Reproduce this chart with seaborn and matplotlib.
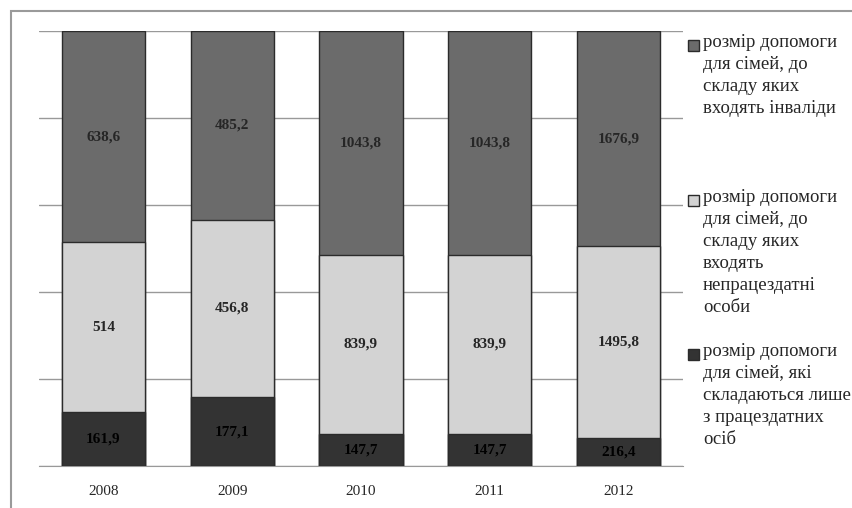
import numpy as np
import pandas as pd
import seaborn as sns
import matplotlib.pyplot as plt
from matplotlib.patches import Rectangle

years = ['2008', '2009', '2010', '2011', '2012']
# розмір допомоги, три групи сімей
able_only = [161.9, 177.1, 147.7, 147.7, 216.4]
disabled_workers = [514, 456.8, 839.9, 839.9, 1495.8]
invalids = [638.6, 485.2, 1043.8, 1043.8, 1676.9]

labels = ['розмір допомоги\nдля сімей, до\nскладу яких\nвходять інваліди',
          'розмір допомоги\nдля сімей, до\nскладу яких\nвходять\nнепрацездатні\nособи',
          'розмір допомоги\nдля сімей, які\nскладаються лише\nз працездатних\nосіб']
colors = ['#6b6b6b', '#d3d3d3', '#333333']


def fmt(v):
    s = ('%.1f' % v).rstrip('0').rstrip('.')
    return s.replace('.', ',')


def main():
    sns.set_style('white')
    plt.rcParams['font.family'] = ['Liberation Serif', 'DejaVu Serif']

    df = pd.DataFrame({'year': years, 'a': able_only, 'b': disabled_workers, 'c': invalids})
    total = df['a'] + df['b'] + df['c']
    pa = df['a'] / total * 100
    pb = df['b'] / total * 100
    pc = df['c'] / total * 100

    fig = plt.figure(figsize=(8.53, 5.08), dpi=100)
    ax = fig.add_axes([0.0457, 0.0827, 0.755, 0.856])

    # stacked 100% bars, drawn from top cumulative down
    cum = [pa + pb + pc, pa + pb, pa]
    for c, col in zip(cum, colors):
        sns.barplot(x=df['year'], y=c, color=col, width=0.645, edgecolor='#2b2b2b',
                    linewidth=1.0, ax=ax, zorder=3, saturation=1)

    # segment labels
    for i in range(len(years)):
        ax.text(i, pa[i] / 2, fmt(able_only[i]), ha='center', va='center',
                fontsize=11, fontweight='bold', color='black', zorder=5)
        ax.text(i, pa[i] + pb[i] / 2, fmt(disabled_workers[i]), ha='center', va='center',
                fontsize=11, fontweight='bold', zorder=5)
        ax.text(i, pa[i] + pb[i] + pc[i] / 2, fmt(invalids[i]), ha='center', va='center',
                fontsize=11, fontweight='bold', zorder=5)

    ax.set_ylim(0, 100)
    ax.set_xlim(-0.5, 4.5)
    ax.set_yticks([0, 20, 40, 60, 80, 100])
    ax.yaxis.grid(True, color='#999999', linewidth=1.0, zorder=0)
    ax.set_yticklabels([])
    ax.tick_params(axis='y', length=0)
    ax.tick_params(axis='x', length=0, labelsize=11, pad=14)
    ax.set_xlabel('')
    ax.set_ylabel('')
    for s in ['top', 'right', 'left']:
        ax.spines[s].set_visible(False)
    ax.spines['bottom'].set_color('#999999')

    # legend, entries aligned to the first line
    W, H = 853.0, 508.0
    tops = [45, 200, 354]
    for lab, col, y in zip(labels, colors, tops):
        fig.patches.append(Rectangle((688 / W, 1 - (y + 5.5) / H), 11 / W, 11 / H,
                                     transform=fig.transFigure, facecolor=col,
                                     edgecolor='#2b2b2b', linewidth=1.0))
        fig.text(703 / W, 1 - (y - 11) / H, lab, ha='left', va='top',
                 fontsize=13.5, linespacing=1.38)

    # outer frame of the picture
    fig.patches.append(Rectangle((11 / W, -0.1), 1.2, 1 - 11 / H + 0.1,
                                 transform=fig.transFigure, facecolor='none',
                                 edgecolor='#9a9a9a', linewidth=1.5))

    fig.savefig('out.png', dpi=100)


main()
